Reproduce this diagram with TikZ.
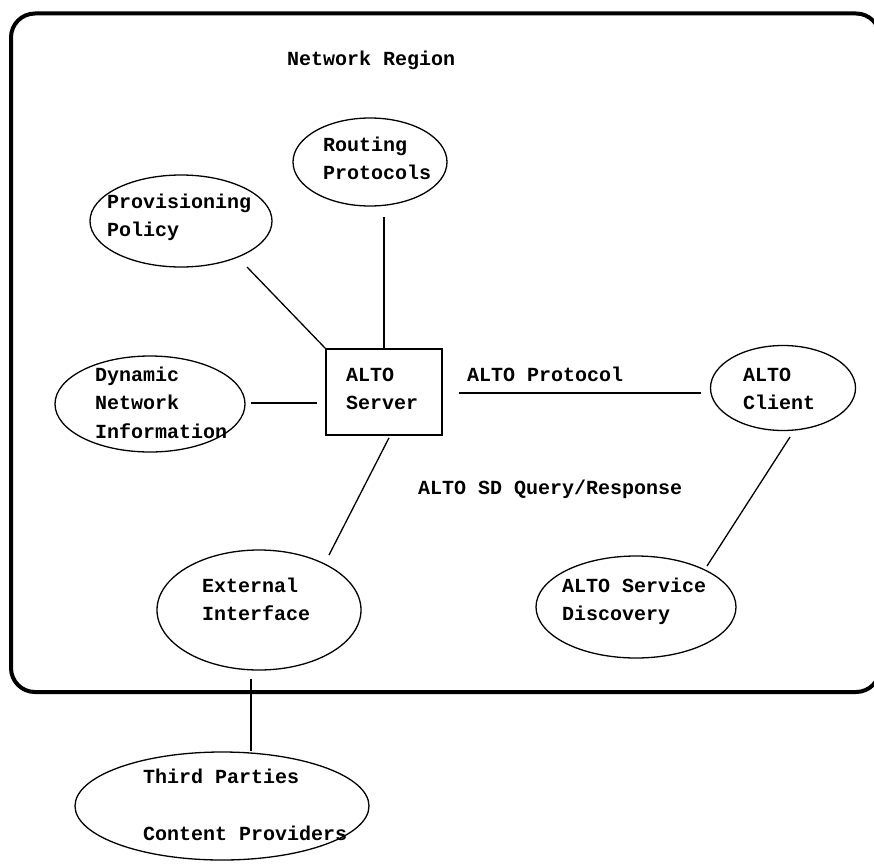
\documentclass[tikz,border=0pt]{standalone}
\usepackage{fontspec}
\setmonofont{Liberation Mono}
\usetikzlibrary{shapes.geometric,calc}

\begin{document}
\begin{tikzpicture}[x=1pt,y=-1pt,
  % multi-line labels are placed by the baseline of their last line
  lbl/.style={font=\ttfamily\bfseries\fontsize{20}{28.5}\selectfont,
              anchor=base west, align=left, inner sep=0pt},
  oval/.style={draw, ellipse, line width=1.3pt, inner sep=0pt},
  box/.style={draw, rectangle, line width=1.6pt, inner sep=0pt},
  link/.style={line width=1.3pt},
  frame/.style={draw, line width=4pt, rounded corners=24pt}]
\useasboundingbox (0,0) rectangle (874,867);

% network region border
\draw[frame] (11,13.5) rectangle (880,692);
\node[lbl] (title) at (287,66) {Network Region};

% shapes
\node[oval, minimum width=154, minimum height=88] (routing) at (370,162) {};
\node[oval, minimum width=182, minimum height=92] (prov) at (181,221) {};
\node[oval, minimum width=190, minimum height=96] (dyn) at (150,404) {};
\node[box, minimum width=116, minimum height=86] (server) at (384,392) {};
\node[oval, minimum width=145, minimum height=85] (client) at (783,388) {};
\node[oval, minimum width=200, minimum height=102] (sd) at (636,607) {};
\node[oval, minimum width=204, minimum height=120] (ext) at (259,610) {};
\node[oval, minimum width=294, minimum height=108] (third) at (222,806) {};

% texts
\node[lbl] (routingT) at (323,179.5) {Routing\\Protocols};
\node[lbl] (provT) at (107,236.5) {Provisioning\\Policy};
\node[lbl] (dynT) at (95,438) {Dynamic\\Network\\Information};
\node[lbl] (serverT) at (346,409.5) {ALTO\\Server};
\node[lbl] (clientT) at (743,409.5) {ALTO\\Client};
\node[lbl] (sdT) at (562,620.5) {ALTO Service\\Discovery};
\node[lbl] (extT) at (202,620.5) {External\\Interface};
\node[lbl] (thirdT) at (143,840.5) {Third Parties\\[29pt]Content Providers};
\node[lbl] (protoT) at (467,381) {ALTO Protocol};
\node[lbl] (sdqT) at (418,494) {ALTO SD Query/Response};

% connectors
\draw[link] (server.north) -- ($(server.north |- routing.south)+(0,10)$);
\draw[link] (server.north west) -- ($(prov.center)+(66,46)$);
\draw[link] ($(dyn.east)+(5,-1)$) -- ($(dyn.east -| server.west)+(-8,-1)$);
\draw[link] ($(server.east)+(16,1)$) -- ($(client.west)+(-9,5)$);
\draw[link] ($(server.south)+(5,2)$) -- ($(ext.center)+(70,-55)$);
\draw[link] ($(client.center)+(7,49)$) -- ($(sd.center)+(71,-41)$);
\draw[link] ($(ext.south)+(-8,8)$) -- ($(third.north -| ext.south)+(-8,0)$);
\end{tikzpicture}
\end{document}
